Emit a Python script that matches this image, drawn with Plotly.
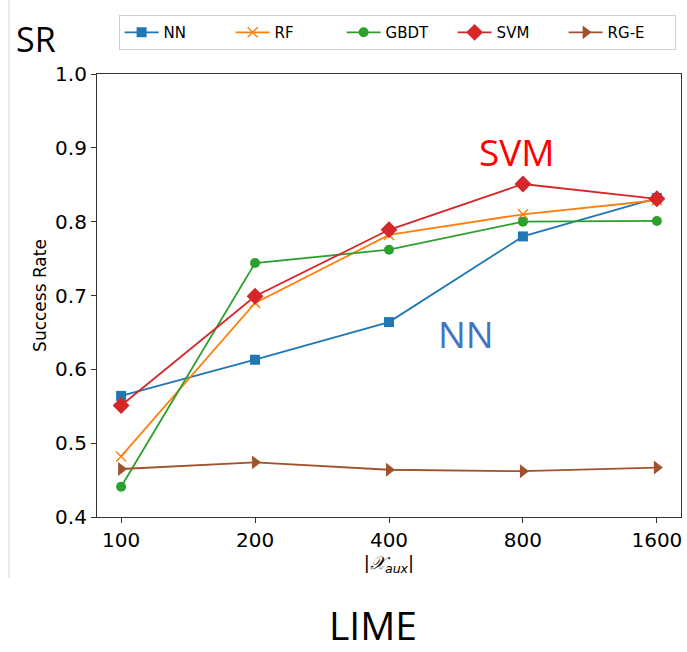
import plotly.graph_objects as go

categories = ["100", "200", "400", "800", "1600"]
nn = [0.564, 0.613, 0.664, 0.780, 0.832]
rf = [0.482, 0.690, 0.782, 0.810, 0.829]
gbdt = [0.441, 0.744, 0.762, 0.800, 0.801]
svm = [0.551, 0.699, 0.789, 0.851, 0.831]
rge = [0.465, 0.474, 0.464, 0.462, 0.467]
yticks = [0.4, 0.5, 0.6, 0.7, 0.8, 0.9, 1.0]

xpos = list(range(len(categories)))

series = [
    ("NN", nn, "#1f77b4", "square", 10),
    ("RF", rf, "#ff7f0e", "x-thin", 10),
    ("GBDT", gbdt, "#2ca02c", "circle", 10),
    ("SVM", svm, "#d62728", "diamond", 13),
    ("RG-E", rge, "#a0522d", "triangle-right", 12),
]

fig = go.Figure()
for name, vals, color, sym, size in series:
    marker = dict(symbol=sym, size=size, color=color)
    if sym == "x-thin":
        marker["line"] = dict(color=color, width=1.5)
    fig.add_trace(go.Scatter(
        x=xpos, y=vals, name=name, mode="lines+markers",
        line=dict(color=color, width=1.8), marker=marker,
    ))

axis_common = dict(
    showline=True, linecolor="#333", linewidth=1.2, mirror=True,
    ticks="outside", ticklen=5, tickcolor="#333", showgrid=False, zeroline=False,
    tickfont=dict(family="DejaVu Sans", size=20, color="black"),
)

fig.update_xaxes(
    range=[-0.18, 4.18], tickvals=xpos, ticktext=categories,
    title=dict(text="|<i>𝒳<sub>aux</sub></i>|", font=dict(family="DejaVu Sans", size=18, color="black"), standoff=2),
    **axis_common,
)
fig.update_yaxes(
    range=[0.4, 1.0], tickvals=yticks, ticktext=[f"{v:.1f}" for v in yticks],
    title=dict(text="Success Rate", font=dict(family="DejaVu Sans", size=17, color="black"), standoff=4),
    **axis_common,
)

fig.update_layout(
    width=687, height=652,
    margin=dict(l=97, r=6, t=74, b=135),
    paper_bgcolor="white", plot_bgcolor="white",
    showlegend=True,
    legend=dict(
        orientation="h", x=0.037, y=1.133, xanchor="left", yanchor="top",
        bordercolor="#d0d0d0", borderwidth=1, bgcolor="white",
        font=dict(family="DejaVu Sans", size=15, color="black"),
        entrywidth=62, itemwidth=34,
    ),
    annotations=[
        dict(text="SR", xref="paper", yref="paper", x=-0.105, y=1.08,
             xanchor="center", yanchor="middle",
             showarrow=False, font=dict(family="Open Sans", size=34, color="black")),
        dict(text="LIME", xref="paper", yref="paper", x=0.4726, y=-0.242,
             xanchor="center", yanchor="middle",
             showarrow=False, font=dict(family="Open Sans", size=39, color="black")),
        dict(text="SVM", xref="x", yref="y", x=2.955, y=0.895,
             xanchor="center", yanchor="middle",
             showarrow=False, font=dict(family="Open Sans", size=37, color="#ff0000")),
        dict(text="NN", xref="x", yref="y", x=2.575, y=0.649,
             xanchor="center", yanchor="middle",
             showarrow=False, font=dict(family="Open Sans", size=37, color="#4472c4")),
    ],
    shapes=[
        dict(type="line", xref="paper", yref="paper", x0=-0.1507, x1=-0.1507,
             y0=-0.138, y1=1.167, line=dict(color="#d0d0d0", width=1)),
    ],
)

fig.write_html("out.html")
